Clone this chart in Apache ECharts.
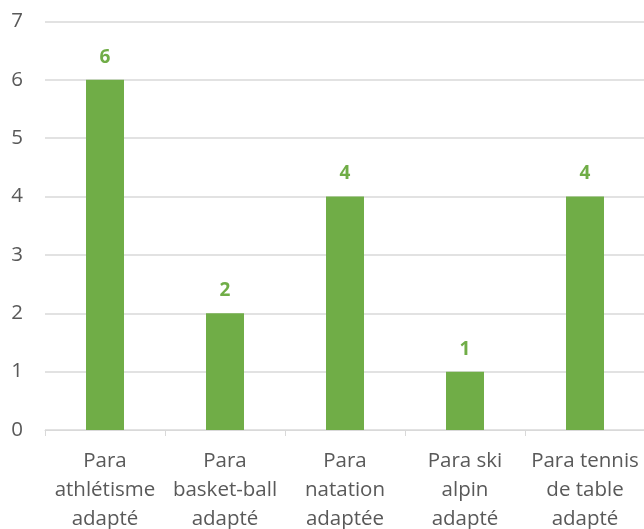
<!DOCTYPE html>
<html><head><meta charset="utf-8">
<script src="https://cdn.jsdelivr.net/npm/echarts@6/dist/echarts.min.js"></script>
<style>html,body{margin:0;padding:0;background:#fff}#c{width:644px;height:529px}</style>
</head><body><div id="c"></div>
<script>
const categories = ["Para\nathlétisme\nadapté", "Para\nbasket-ball\nadapté", "Para\nnatation\nadaptée", "Para ski\nalpin\nadapté", "Para tennis\nde table\nadapté"];
const values = [6, 2, 4, 1, 4];
const yTicks = [0, 1, 2, 3, 4, 5, 6, 7];

const chart = echarts.init(document.getElementById('c'), null, {renderer: 'canvas'});
chart.setOption({
  animation: false,
  grid: {left: 45, top: 21.5, width: 600, height: 408.5, containLabel: false, outerBoundsMode: 'none'},
  xAxis: {
    type: 'category',
    data: categories,
    axisLine: {lineStyle: {color: '#D9D9D9', width: 1}},
    axisTick: {show: true, length: 6, lineStyle: {color: '#D9D9D9'}},
    axisLabel: {color: '#595959', fontFamily: 'Open Sans', fontSize: 20.5, lineHeight: 29, margin: 17, interval: 0}
  },
  yAxis: {
    type: 'value',
    min: yTicks[0], max: yTicks[yTicks.length - 1], interval: 1,
    axisLine: {show: false},
    axisTick: {show: false},
    splitLine: {lineStyle: {color: '#D9D9D9', width: 1.5}},
    axisLabel: {color: '#595959', fontFamily: 'Open Sans', fontSize: 20.5, margin: 22}
  },
  series: [{
    type: 'bar',
    data: values,
    barWidth: 38,
    itemStyle: {color: '#70AD47'},
    label: {show: true, position: 'top', distance: 13, color: '#70AD47', fontWeight: 'bold', fontFamily: 'Open Sans', fontSize: 19}
  }]
});
</script></body></html>
